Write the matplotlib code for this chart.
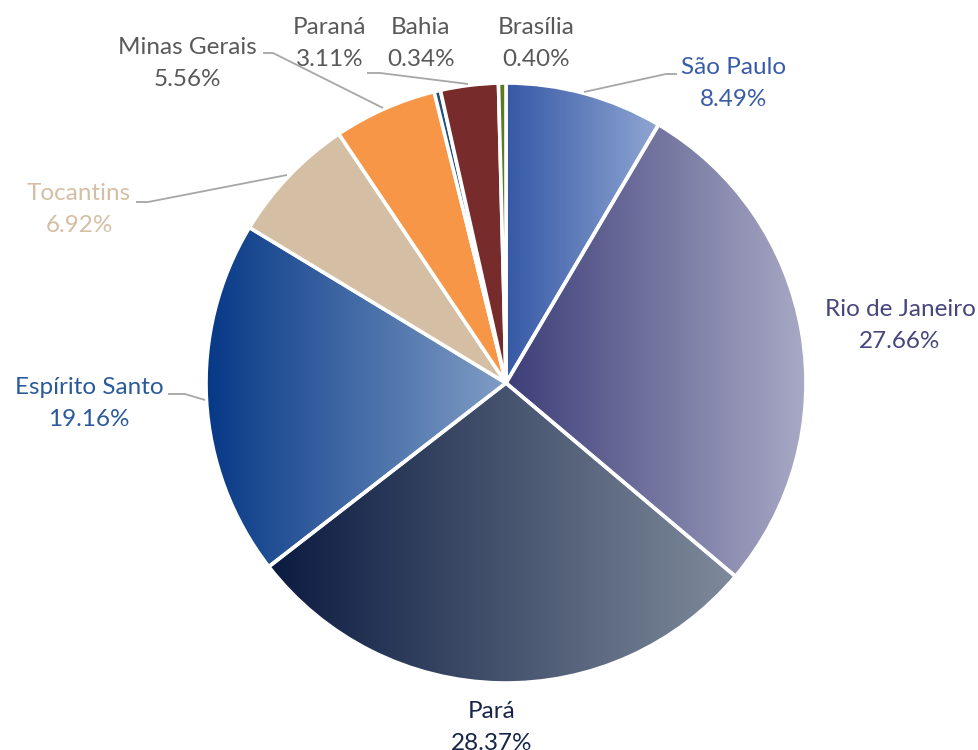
import numpy as np
import matplotlib
matplotlib.use("Agg")
import matplotlib.pyplot as plt
from matplotlib.colors import LinearSegmentedColormap

# share of each state, clockwise from 12 o'clock
states = ["São Paulo", "Rio de Janeiro", "Pará", "Espírito Santo", "Tocantins",
          "Minas Gerais", "Bahia", "Paraná", "Brasília"]
shares = [8.49, 27.66, 28.37, 19.16, 6.92, 5.56, 0.34, 3.11, 0.40]

# fill colours: (left, right) of a horizontal gradient
fills = [("#3659a6", "#90a6d3"),
         ("#3d3e78", "#aaabc6"),
         ("#0b1a40", "#7f8b9b"),
         ("#063886", "#809dc5"),
         ("#d4bfa4", "#d4bfa4"),
         ("#f79646", "#f79646"),
         ("#1f4e79", "#1f4e79"),
         ("#772b2b", "#772b2b"),
         ("#5a7a2a", "#5a7a2a")]
label_colors = ["#3a5ca8", "#45467e", "#172548", "#2a5a9c", "#d4bfa4",
                "#595959", "#595959", "#595959", "#595959"]

W, H = 979, 750
CX, CY, R = 506, H - 383, 300

# label block centres (pixel coords, y from top) and leader lines
label_pos = [(734, 68), (900, 310), (492, 711), (89, 387), (79, 194),
             (187, 47), (421, 28), (330, 28), (536, 28)]
leaders = {
    0: [(677, 74), (666, 74), (584, 92)],
    3: [(168, 394), (185, 394), (205, 400)],
    4: [(136, 202), (148, 202), (287, 175)],
    5: [(263, 53), (273, 53), (383, 108)],
    7: [(367, 73), (380, 73), (468, 84)],
}

fig = plt.figure(figsize=(W / 100, H / 100), dpi=100)
ax = fig.add_axes([0, 0, 1, 1])

wedges, _ = ax.pie(shares, center=(CX, CY), radius=R, startangle=90,
                   counterclock=False, colors=[f[1] for f in fills],
                   wedgeprops=dict(edgecolor="white", linewidth=2.6),
                   frame=True)
ax.set_xlim(0, W)
ax.set_ylim(0, H)
ax.set_aspect("equal")
ax.axis("off")

grad = np.linspace(0, 1, 256).reshape(1, -1)
for w, (c0, c1) in zip(wedges, fills):
    if c0 == c1:
        continue
    verts = w.get_patch_transform().transform(w.get_path().vertices)
    x0, x1 = verts[:, 0].min(), verts[:, 0].max()
    y0, y1 = verts[:, 1].min(), verts[:, 1].max()
    cmap = LinearSegmentedColormap.from_list("g", [c0, c1])
    im = ax.imshow(grad, cmap=cmap, extent=(x0, x1, y0, y1), aspect="auto",
                   interpolation="bicubic", zorder=w.get_zorder() - 0.1)
    im.set_clip_path(w)
    w.set_facecolor("none")

font = dict(family=["Lato", "DejaVu Sans"], fontsize=17.5, ha="center", va="center")
for i, (name, val) in enumerate(zip(states, shares)):
    lx, ly = label_pos[i]
    ax.text(lx, H - ly, name, color=label_colors[i], **font)
    ax.text(lx, H - ly - 32, f"{val:.2f}%", color=label_colors[i], **font)

for pts in leaders.values():
    xs = [p[0] for p in pts]
    ys = [H - p[1] for p in pts]
    ax.plot(xs, ys, color="#a6a6a6", lw=1.3, solid_capstyle="butt")

fig.savefig("out.png", dpi=100, facecolor="white")
